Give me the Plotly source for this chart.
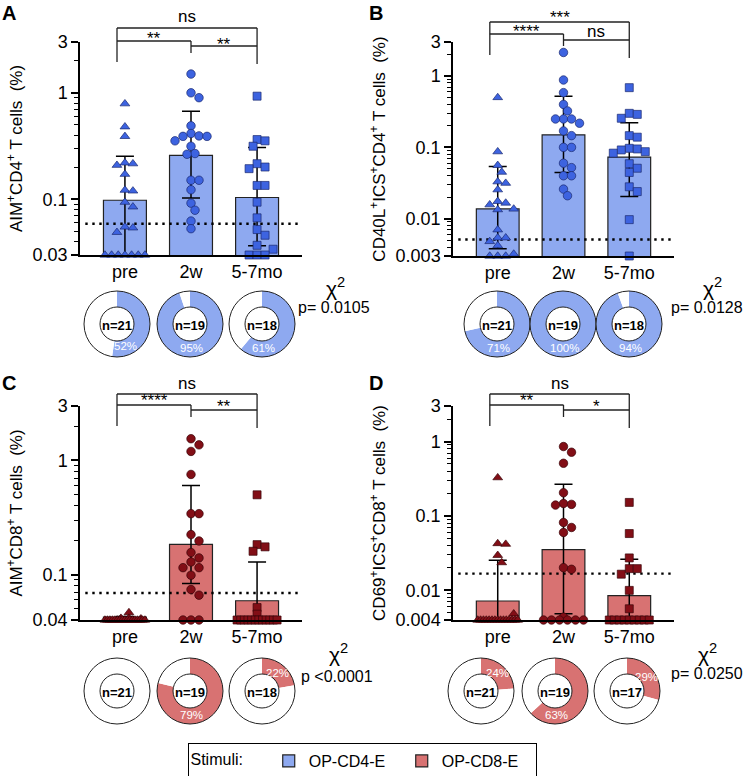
import numpy as np
import plotly.graph_objects as go

W, H = 747, 776
FONT = "Liberation Sans, Arial, Helvetica, sans-serif"

groups = ["pre", "2w", "5-7mo"]

# ---------------- Panel A : AIM+CD4+ (OP-CD4-E)
A_pre = [0.79, 0.48, 0.39, 0.22, 0.216, 0.209, 0.172, 0.122, 0.12, 0.094, 0.085,
         0.055, 0.054, 0.049, 0.03, 0.03, 0.03, 0.03, 0.03, 0.03, 0.03]
A_2w = [1.5, 1.0, 0.9, 0.49, 0.415, 0.394, 0.39, 0.39, 0.354, 0.315, 0.269, 0.265,
        0.151, 0.151, 0.123, 0.092, 0.079, 0.0625, 0.053]
A_57 = [0.93, 0.364, 0.354, 0.315, 0.216, 0.201, 0.194, 0.135, 0.135, 0.094, 0.067,
        0.052, 0.046, 0.037, 0.034, 0.03, 0.03, 0.03]
A_bar = [0.098, 0.259, 0.104]
A_err_hi = [0.254, 0.673, 0.306]
A_err_lo = [0.02, 0.103, 0.0367]
A_thr = 0.059
A_resp = [11, 18, 11]
A_n = [21, 19, 18]
A_p = "p= 0.0105"
A_sig = ["**", "**", "ns"]

# ---------------- Panel B : CD40L+ICS+CD4+ (OP-CD4-E)
B_pre = [0.50, 0.087, 0.056, 0.045, 0.033, 0.0315, 0.0255, 0.0175, 0.0166, 0.0157,
         0.0137, 0.0134, 0.007, 0.0054, 0.0054, 0.0048, 0.0042, 0.0032, 0.003, 0.003, 0.003]
B_2w = [2.14, 0.88, 0.585, 0.40, 0.324, 0.25, 0.25, 0.25, 0.218, 0.17, 0.146, 0.1, 0.1,
        0.06, 0.052, 0.04, 0.04, 0.026, 0.021]
B_57 = [0.687, 0.30, 0.29, 0.256, 0.146, 0.139, 0.097, 0.095, 0.092, 0.087, 0.083,
        0.059, 0.051, 0.0445, 0.028, 0.024, 0.0097, 0.003]
B_bar = [0.0137, 0.15, 0.073]
B_err_hi = [0.054, 0.52, 0.222]
B_err_lo = [0.0038, 0.0445, 0.0205]
B_thr = 0.0051
B_resp = [15, 19, 17]
B_n = [21, 19, 18]
B_p = "p= 0.0128"
B_sig = ["****", "ns", "***"]

# ---------------- Panel C : AIM+CD8+ (OP-CD8-E)
C_pre = [0.0465, 0.0415, 0.0415, 0.041] + [0.04] * 17
C_2w = [1.55, 1.37, 1.2, 0.754, 0.342, 0.342, 0.224, 0.197, 0.156, 0.14, 0.129, 0.115,
        0.115, 0.0987, 0.074, 0.066, 0.04, 0.04, 0.04]
C_57 = [0.50, 0.183, 0.175, 0.16, 0.0514, 0.045] + [0.04] * 12
C_bar = [0.0425, 0.184, 0.059]
C_err_hi = [0.043, 0.604, 0.129]
C_err_lo = [0.0415, 0.0834, 0.02]
C_thr = 0.069
C_resp = [0, 15, 4]
C_n = [21, 19, 18]
C_p = "p <0.0001"
C_sig = ["****", "**", "ns"]

# ---------------- Panel D : CD69+ICS+CD8+ (OP-CD8-E)
D_pre = [0.327, 0.0426, 0.0418, 0.0296, 0.0236, 0.00485] + [0.004] * 15
D_2w = [0.856, 0.718, 0.51, 0.205, 0.147, 0.143, 0.14, 0.0817, 0.07, 0.06, 0.0202,
        0.0192, 0.00437] + [0.004] * 6
D_57 = [0.152, 0.058, 0.0273, 0.0196, 0.0196, 0.0165, 0.01, 0.00566] + [0.004] * 9
D_bar = [0.0072, 0.0353, 0.0085]
D_err_hi = [0.0254, 0.266, 0.0262]
D_err_lo = [0.003, 0.00485, 0.003]
D_thr = 0.0168
D_resp = [5, 12, 5]
D_n = [21, 19, 17]
D_p = "p= 0.0250"
D_sig = ["**", "*", "ns"]

stimuli = ["OP-CD4-E", "OP-CD8-E"]

BLUE_BAR, BLUE_PT, BLUE_EDGE = "#8EA9F0", "#3D63E0", "#1b2a70"
RED_BAR, RED_PT, RED_EDGE = "#D87272", "#820E16", "#3a0508"

panels = [
    dict(key="A", pts=[A_pre, A_2w, A_57], bar=A_bar, hi=A_err_hi, lo=A_err_lo, thr=A_thr,
         resp=A_resp, n=A_n, p=A_p, sig=A_sig, stim=0,
         box=(80, 302, 42, 255), ymin=0.03,
         ticks=[3, 1, 0.1, 0.03], ticktext=["3", "1", "0.1", "0.03"],
         title="AIM<sup>+</sup>CD4<sup>+</sup> T cells\u00a0\u00a0(%)",
         donuts=[(117, 324), (190, 324), (262, 324)],
         br=dict(outer=28, in1=41, in2=46, legL=62, legR=64, mid=53,
                 lab=[34.3, 40.7, 16]),
         chi=(335, 287), pxy=(334, 308), letter=(9, 13)),
    dict(key="B", pts=[B_pre, B_2w, B_57], bar=B_bar, hi=B_err_hi, lo=B_err_lo, thr=B_thr,
         resp=B_resp, n=B_n, p=B_p, sig=B_sig, stim=0,
         box=(453, 674, 42, 256), ymin=0.003,
         ticks=[3, 1, 0.1, 0.01, 0.003], ticktext=["3", "1", "0.1", "0.01", "0.003"],
         title="CD40L<sup>+</sup>ICS<sup>+</sup>CD4<sup>+</sup> T cells\u00a0\u00a0(%)",
         donuts=[(497, 324), (563, 324), (629, 324)],
         br=dict(outer=22, in1=34, in2=40, legL=55, legR=58, mid=46,
                 lab=[27.3, 31.7, 13.3]),
         chi=(712, 287), pxy=(707, 308), letter=(376, 13)),
    dict(key="C", pts=[C_pre, C_2w, C_57], bar=C_bar, hi=C_err_hi, lo=C_err_lo, thr=C_thr,
         resp=C_resp, n=C_n, p=C_p, sig=C_sig, stim=1,
         box=(80, 302, 406, 620), ymin=0.04,
         ticks=[3, 1, 0.1, 0.04], ticktext=["3", "1", "0.1", "0.04"],
         title="AIM<sup>+</sup>CD8<sup>+</sup> T cells\u00a0\u00a0(%)",
         donuts=[(117, 691), (190, 691), (262, 691)],
         br=dict(outer=394, in1=405, in2=410, legL=426, legR=428, mid=417,
                 lab=[396.7, 402.3, 383.3]),
         chi=(338, 653), pxy=(337, 676), letter=(9, 383)),
    dict(key="D", pts=[D_pre, D_2w, D_57], bar=D_bar, hi=D_err_hi, lo=D_err_lo, thr=D_thr,
         resp=D_resp, n=D_n, p=D_p, sig=D_sig, stim=1,
         box=(453, 674, 406, 620), ymin=0.004,
         ticks=[3, 1, 0.1, 0.01, 0.004], ticktext=["3", "1", "0.1", "0.01", "0.004"],
         title="CD69<sup>+</sup>ICS<sup>+</sup>CD8<sup>+</sup> T cells\u00a0\u00a0(%)",
         donuts=[(481, 691), (555, 691), (627, 691)],
         br=dict(outer=394, in1=405, in2=410, legL=426, legR=428, mid=417,
                 lab=[396.7, 402.3, 383.3]),
         chi=(707, 653), pxy=(707, 673), letter=(376, 383)),
]

XR = (-0.68, 2.68)
YMAX = 3.0
BARW = 0.65
SYMS = ["triangle-up", "circle", "square"]


def px2x(px):
    return px / W


def px2y(py):
    return 1 - py / H


def minor_vals(lo, hi):
    out = []
    for e in range(-4, 2):
        for m in range(2, 10):
            v = m * 10.0 ** e
            if lo * 1.0001 < v < hi * 0.9999:
                out.append(v)
    return out


def swarm(vals, lo, ppd, ppu, d=8.0, half=20.0):
    n = len(vals)
    ly = [(np.log10(max(v, lo)) - np.log10(lo)) * ppd for v in vals]
    offs = [0.0] * n
    placed = []
    floor = [i for i in range(n) if vals[i] <= lo * 1.0001]
    if len(floor) > 1:
        span = min((len(floor) - 1) * d, 2 * half)
        for k, i in enumerate(floor):
            x = -span / 2 + span * k / (len(floor) - 1)
            offs[i] = x
            placed.append((x, ly[i]))
    elif len(floor) == 1:
        placed.append((0.0, ly[floor[0]]))
    rest = sorted([i for i in range(n) if i not in floor], key=lambda i: -ly[i])
    step = d / 2
    cands = [0.0]
    for k in range(1, 12):
        cands += [k * step, -k * step]
    cands = [c for c in cands if abs(c) <= half]
    for i in rest:
        y = ly[i]
        chosen = None
        for x in cands:
            if all((x - a) ** 2 + (y - b) ** 2 >= 0.9 * d * d for a, b in placed):
                chosen = x
                break
        if chosen is None:
            chosen = max(cands, key=lambda x: min((x - a) ** 2 + (y - b) ** 2 for a, b in placed))
        offs[i] = chosen
        placed.append((chosen, y))
    return [o / ppu for o in offs]


fig = go.Figure()
layout = dict(width=W, height=H, margin=dict(l=0, r=0, t=0, b=0, autoexpand=False),
              paper_bgcolor="white", plot_bgcolor="white",
              font=dict(family=FONT, color="black"), showlegend=True)
shapes, annots = [], []

for idx, P in enumerate(panels):
    sfx = "" if idx == 0 else str(idx + 1)
    xa, ya = "x" + sfx, "y" + sfx
    x0, x1, y0, y1 = P["box"]
    ylo = P["ymin"]
    ppu = (x1 - x0) / (XR[1] - XR[0])
    ppd = (y1 - y0) / (np.log10(YMAX) - np.log10(ylo))
    barc, ptc, edc = (BLUE_BAR, BLUE_PT, BLUE_EDGE) if P["stim"] == 0 else (RED_BAR, RED_PT, RED_EDGE)

    layout["xaxis" + sfx] = dict(domain=[px2x(x0), px2x(x1)], anchor=ya, range=list(XR),
                                 tickmode="array", tickvals=[0, 1, 2], ticktext=groups,
                                 showline=True, linecolor="black", linewidth=1.5,
                                 ticks="", showgrid=False, zeroline=False,
                                 tickfont=dict(size=18), fixedrange=True)
    layout["yaxis" + sfx] = dict(domain=[px2y(y1), px2y(y0)], anchor=xa, type="log",
                                 range=[np.log10(ylo), np.log10(YMAX)],
                                 tickmode="array", tickvals=P["ticks"], ticktext=P["ticktext"],
                                 ticks="outside", ticklen=7, tickwidth=1.5, tickcolor="black",
                                 showline=True, linecolor="black", linewidth=1.5,
                                 showgrid=False, zeroline=False, tickfont=dict(size=18),
                                 minor=dict(tickmode="array", tickvals=minor_vals(ylo, YMAX),
                                            ticks="outside", ticklen=4, tickwidth=1,
                                            tickcolor="black", showgrid=False),
                                 title=dict(text=P["title"], font=dict(size=17), standoff=6))

    # bars with error bars
    fig.add_trace(go.Bar(x=[0, 1, 2], y=P["bar"], width=BARW, xaxis=xa, yaxis=ya,
                         marker=dict(color=barc, line=dict(color="#222222", width=1.2)),
                         error_y=dict(type="data", symmetric=False,
                                      array=[h - m for h, m in zip(P["hi"], P["bar"])],
                                      arrayminus=[m - l for m, l in zip(P["bar"], P["lo"])],
                                      color="black", thickness=1.5, width=9),
                         name=stimuli[P["stim"]], showlegend=(P["key"] in ("A", "C")),
                         legendrank=P["stim"], hoverinfo="skip"))
    # threshold line
    fig.add_trace(go.Scatter(x=[-0.6, 2.65], y=[P["thr"], P["thr"]], mode="lines",
                             xaxis=xa, yaxis=ya, showlegend=False, hoverinfo="skip",
                             line=dict(color="black", width=2.4, dash="2.4px,4.6px")))
    # individual points
    for g in range(3):
        vals = P["pts"][g]
        offs = swarm(vals, ylo, ppd, ppu)
        fig.add_trace(go.Scatter(x=[g + o for o in offs], y=vals, mode="markers",
                                 xaxis=xa, yaxis=ya, showlegend=False, cliponaxis=False,
                                 hoverinfo="skip",
                                 marker=dict(symbol=SYMS[g], size=8.5 if g != 2 else 8,
                                             color=ptc, line=dict(color=edc, width=0.7))))

    # significance brackets
    br = P["br"]
    xl, xm, xr = -0.12, 1.0, 2.0
    segs = [((xl, br["outer"]), (xr, br["outer"])),
            ((xl, br["outer"]), (xl, br["legL"])),
            ((xr, br["outer"]), (xr, br["legR"])),
            ((xl, br["in1"]), (xm, br["in1"])),
            ((xm, br["in2"]), (xr, br["in2"])),
            ((xm, br["in1"]), (xm, br["mid"]))]
    for (ax_, ay_), (bx_, by_) in segs:
        shapes.append(dict(type="line", xref=xa, yref="paper", x0=ax_, x1=bx_,
                           y0=px2y(ay_), y1=px2y(by_), line=dict(color="#222222", width=1.3)))
    labx = [(xl + xm) / 2, (xm + xr) / 2, (xl + xr) / 2]
    for s, lx, ly_ in zip(P["sig"], labx, br["lab"]):
        star = s != "ns"
        annots.append(dict(text=s, xref=xa, yref="paper", x=lx,
                           y=px2y(ly_ + (4 if star else 0)), showarrow=False,
                           xanchor="center", yanchor="middle", font=dict(size=17)))

    # donuts
    R = 33
    for g in range(3):
        cx, cy = P["donuts"][g]
        dom = dict(x=[px2x(cx - R), px2x(cx + R)], y=[px2y(cy + R), px2y(cy - R)])
        r, n = P["resp"][g], P["n"][g]
        fig.add_trace(go.Pie(values=[r, n - r], domain=dom, hole=0.515, sort=False,
                             direction="clockwise", rotation=0, textinfo="none",
                             marker=dict(colors=[barc, "white"], line=dict(width=0)),
                             showlegend=False, hoverinfo="skip",
                             title=dict(text="<b>n=%d</b>" % n, position="middle center",
                                        font=dict(size=13, color="black"))))
        fig.add_trace(go.Pie(values=[1], domain=dom, hole=0.515, sort=False,
                             textinfo="none", showlegend=False, hoverinfo="skip",
                             marker=dict(colors=["rgba(0,0,0,0)"],
                                         line=dict(color="#222222", width=1))))
        if r > 0:
            frac = r / n
            deg = frac * 180 if frac <= 0.5 else min(176, frac * 360 - 30)
            ang = np.radians(deg)
            rr = 24
            tx, ty = cx + rr * np.sin(ang), cy - rr * np.cos(ang)
            annots.append(dict(text="%d%%" % round(100 * frac), xref="paper", yref="paper",
                               x=px2x(tx), y=px2y(ty), showarrow=False, xanchor="center",
                               yanchor="middle", font=dict(size=11.5, color="white")))

    # chi-square
    annots.append(dict(text="χ<sup>2</sup>", xref="paper", yref="paper",
                       x=px2x(P["chi"][0]), y=px2y(P["chi"][1]), showarrow=False,
                       xanchor="center", yanchor="middle", font=dict(size=21)))
    annots.append(dict(text=P["p"], xref="paper", yref="paper",
                       x=px2x(P["pxy"][0]), y=px2y(P["pxy"][1]), showarrow=False,
                       xanchor="center", yanchor="middle", font=dict(size=16)))
    # panel letter
    annots.append(dict(text="<b>%s</b>" % P["key"], xref="paper", yref="paper",
                       x=px2x(P["letter"][0]), y=px2y(P["letter"][1]), showarrow=False,
                       xanchor="center", yanchor="middle", font=dict(size=20)))

layout["shapes"] = shapes
layout["annotations"] = annots
layout["legend"] = dict(orientation="h", x=px2x(362), xanchor="center", y=px2y(779),
                        yanchor="bottom", bordercolor="black", borderwidth=1,
                        bgcolor="white", font=dict(size=16),
                        title=dict(text="Stimuli:\u00a0\u00a0\u00a0\u00a0", font=dict(size=16)),
                        traceorder="normal", itemwidth=30,
                        entrywidth=88, entrywidthmode="pixels")
fig.update_layout(**layout)
fig.write_html("out.html", config={"displayModeBar": False},
               post_script="document.body.style.margin='0';document.body.style.overflow='hidden';")
